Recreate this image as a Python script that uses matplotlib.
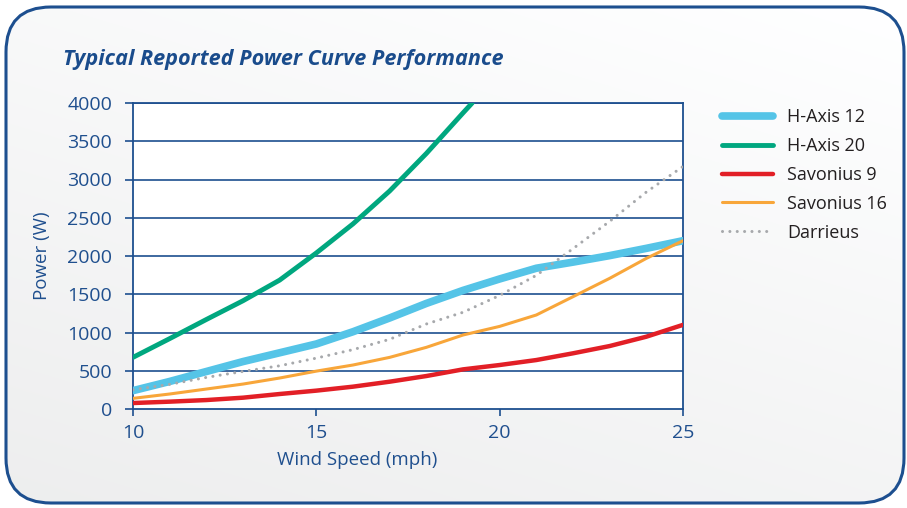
import numpy as np
import matplotlib.pyplot as plt
from matplotlib.patches import FancyBboxPatch

# values (W at each wind speed, mph)
speed = [10, 11, 12, 13, 14, 15, 16, 17, 18, 19, 20, 21, 22, 23, 24, 25]
h_axis_12 = [240, 360, 490, 620, 735, 850, 1010, 1190, 1380, 1550, 1700, 1840, 1920, 2005, 2100, 2200]
speed_h20 = [10, 11, 12, 13, 14, 15, 16, 17, 18, 19, 19.25]
h_axis_20 = [675, 920, 1170, 1415, 1685, 2040, 2420, 2850, 3340, 3870, 4000]
savonius_9 = [78, 96, 117, 148, 196, 240, 292, 357, 431, 518, 575, 640, 728, 823, 945, 1100]
savonius_16 = [139, 196, 261, 326, 405, 495, 575, 675, 806, 967, 1080, 1229, 1468, 1708, 1969, 2200]
darrieus = [252, 322, 413, 491, 565, 665, 776, 911, 1111, 1264, 1485, 1747, 2096, 2453, 2836, 3170]

xticks = [10, 15, 20, 25]
yticks = [0, 500, 1000, 1500, 2000, 2500, 3000, 3500, 4000]

plt.rcParams['font.family'] = ['Open Sans', 'DejaVu Sans']
navy = '#1d4f8f'
text_blue = '#1f4f8e'

fig = plt.figure(figsize=(9.07, 5.08), dpi=100)

# rounded panel with a soft grey gradient
bg = fig.add_axes([0, 0, 1, 1])
bg.set_xlim(0, 907)
bg.set_ylim(508, 0)
bg.axis('off')
yy, xx = np.mgrid[0:508, 0:907]
t = 0.65 * yy / 508 + 0.35 * (1 - xx / 907)
shade = 1 - t * 0.07
rgb = np.dstack([shade, shade * 1.002, shade * 1.004]).clip(0, 1)
im = bg.imshow(rgb, extent=[0, 907, 508, 0], aspect='auto', zorder=0)
box = FancyBboxPatch((6, 7), 898, 496, boxstyle='round,pad=0,rounding_size=45',
                     fc='none', ec=navy, lw=2.2, zorder=2)
bg.add_patch(box)
im.set_clip_path(box)

# plot area
ax = fig.add_axes([133 / 907, 1 - 409 / 508, 550 / 907, 306 / 508])
ax.set_facecolor('white')
for y in yticks[1:]:
    ax.axhline(y, color=navy, lw=1.2, zorder=1)

ax.plot(speed, h_axis_12, color='#55c4e7', lw=5.5, solid_capstyle='round', label='H-Axis 12', zorder=3)
ax.plot(speed_h20, h_axis_20, color='#00a77f', lw=3.5, solid_capstyle='round', label='H-Axis 20', zorder=3)
ax.plot(speed, savonius_9, color='#e21f26', lw=3.2, solid_capstyle='round', label='Savonius 9', zorder=3)
ax.plot(speed, savonius_16, color='#f8a63a', lw=2.2, solid_capstyle='round', label='Savonius 16', zorder=3)
ax.plot(speed, darrieus, color='#a7a9ac', lw=2.2, linestyle=(0, (0.01, 2.4)),
        dash_capstyle='round', label='Darrieus', zorder=4)

ax.set_xlim(10, 25)
ax.set_ylim(0, 4000)
ax.set_xticks(xticks)
ax.set_yticks(yticks)
for s in ['left', 'right', 'bottom', 'top']:
    ax.spines[s].set_color(navy)
    ax.spines[s].set_linewidth(1.3)
ax.tick_params(axis='y', length=6, width=1.2, color=navy, labelcolor=text_blue,
               labelsize=14, pad=9)
ax.tick_params(axis='x', length=5, width=1.2, color=navy, labelcolor=text_blue,
               labelsize=14, pad=6)

fig.text(357 / 907, 1 - 460 / 508, 'Wind Speed (mph)', color=text_blue, fontsize=13.5,
         ha='center', va='center')
fig.text(42 / 907, 1 - 256 / 508, 'Power (W)', color=text_blue, fontsize=13.5,
         ha='center', va='center', rotation=90)
fig.text(63 / 907, 1 - 60 / 508, 'Typical Reported Power Curve Performance', color='#1a4c8c',
         fontsize=15.6, fontweight='bold', style='italic', ha='left', va='center')

leg = fig.legend(loc='upper left', bbox_to_anchor=(706 / 907, 1 - 92 / 508), frameon=False,
                 fontsize=13, handlelength=2.8, handletextpad=0.8, labelspacing=0.6)
for txt in leg.get_texts():
    txt.set_color('#231f20')

fig.savefig('out.png', dpi=100)
